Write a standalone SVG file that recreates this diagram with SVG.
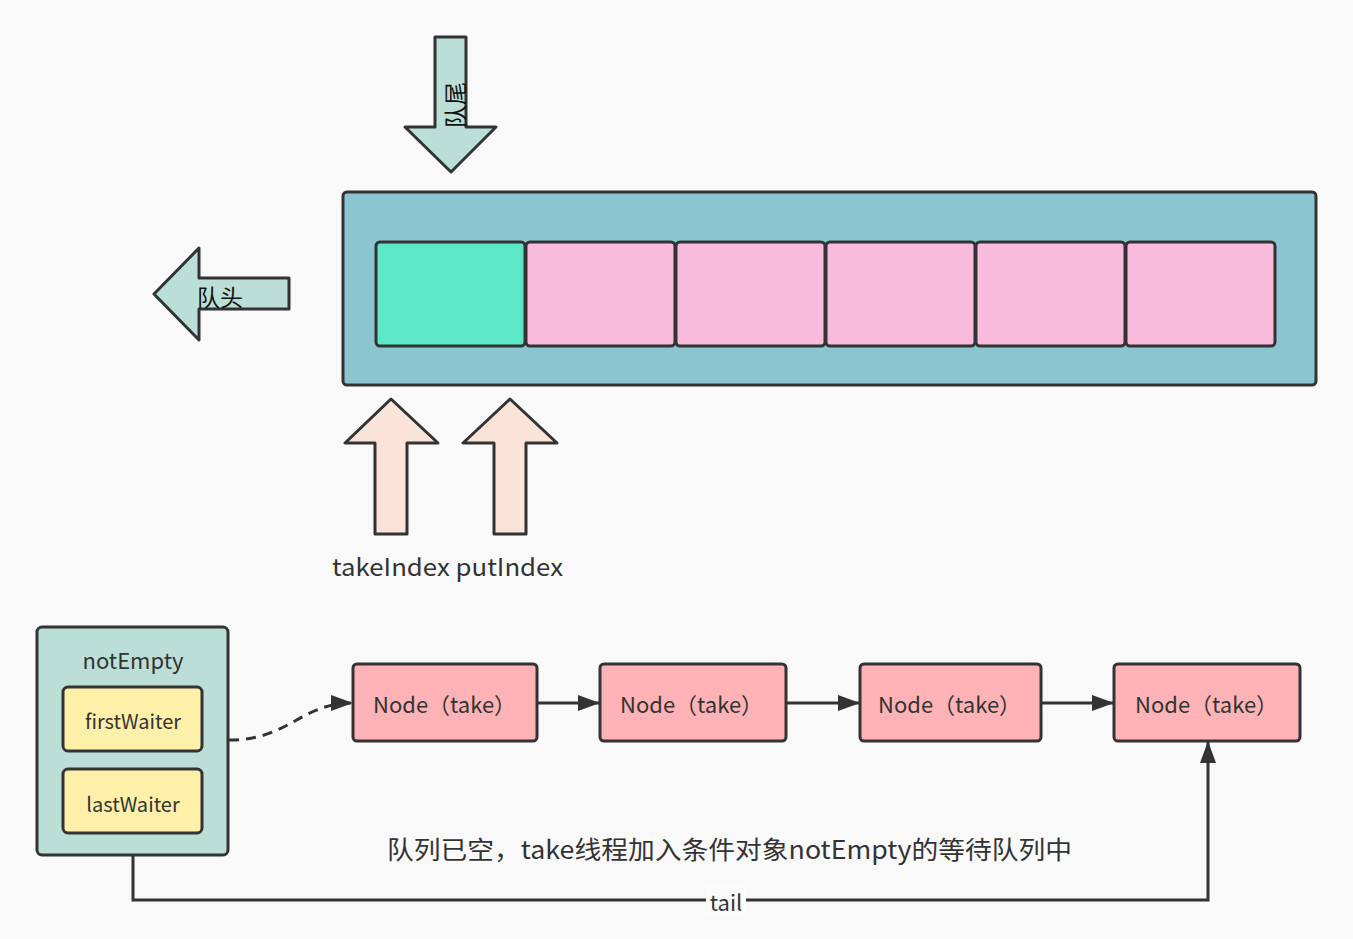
<svg xmlns="http://www.w3.org/2000/svg" width="1353" height="939" viewBox="0 0 1353 939">
<defs>
<style>
.s{stroke:#333;stroke-width:3;stroke-linejoin:round}
.t{font-family:"Noto Sans CJK SC","Noto Sans",sans-serif;fill:#333}
.cell{fill:#F8BBDB}
.node{fill:#FFB3B6}
.wait{fill:#FFF0A9}
.ln{stroke:#333;stroke-width:3;fill:none}
</style>
<marker id="ah2" viewBox="0 0 22 16" refX="22" refY="8" markerWidth="22" markerHeight="16" orient="auto" markerUnits="userSpaceOnUse">
<path d="M0,0 L22,8 L0,16 Z" fill="#333"/>
</marker>
</defs>
<rect width="1353" height="939" fill="#F9F9F9"/>

<g id="tail-arrow">
<polygon class="s" fill="#BBDFD7" points="435,37 466,37 466,127 496,127 451,172 405,127 435,127"/>
<text class="t" style="fill:#111" font-size="23" text-anchor="middle" transform="translate(464,105) rotate(-90)">队尾</text>
</g>
<g id="head-arrow">
<polygon class="s" fill="#BBDFD7" points="289,278 289,309 199,309 199,340 154,294 199,248 199,278"/>
<text class="t" style="fill:#111" font-size="23" x="197" y="306">队头</text>
</g>

<g id="array">
<rect class="s" x="343" y="192" width="973" height="193" rx="4" fill="#8BC6D0"/>
<rect class="s" x="376" y="242" width="149" height="104" rx="4" fill="#5CE8C6"/>
<rect class="s cell" x="526" y="242" width="149" height="104" rx="4"/>
<rect class="s cell" x="676" y="242" width="149" height="104" rx="4"/>
<rect class="s cell" x="826" y="242" width="149" height="104" rx="4"/>
<rect class="s cell" x="976" y="242" width="149" height="104" rx="4"/>
<rect class="s cell" x="1126" y="242" width="149" height="104" rx="4"/>
</g>

<g id="index-arrows">
<polygon class="s" fill="#FAE3D9" points="375,534 407,534 407,443 438,443 391,399 345,443 375,443"/>
<polygon class="s" fill="#FAE3D9" points="494,534 526,534 526,443 557,443 510,399 463,443 494,443"/>
<text class="t" font-size="24" x="332" y="576" textLength="231" lengthAdjust="spacingAndGlyphs">takeIndex putIndex</text>
</g>

<g id="notEmpty">
<rect class="s" x="37" y="627" width="191" height="228" rx="5" fill="#BBDFD7"/>
<text class="t" font-size="22" x="133" y="669" text-anchor="middle">notEmpty</text>
</g>
<g id="firstWaiter">
<rect class="s wait" x="63" y="687" width="139" height="64" rx="5"/>
<text class="t" font-size="20" x="133" y="729" text-anchor="middle">firstWaiter</text>
</g>
<g id="lastWaiter">
<rect class="s wait" x="63" y="769" width="139" height="64" rx="5"/>
<text class="t" font-size="20" x="133" y="812" text-anchor="middle">lastWaiter</text>
</g>

<g id="node1">
<rect class="s node" x="353" y="664" width="184" height="77" rx="4"/>
<text class="t" font-size="22" x="373" y="713">Node（take）</text>
</g>
<g id="node2">
<rect class="s node" x="600" y="664" width="186" height="77" rx="4"/>
<text class="t" font-size="22" x="620" y="713">Node（take）</text>
</g>
<g id="node3">
<rect class="s node" x="860" y="664" width="181" height="77" rx="4"/>
<text class="t" font-size="22" x="878" y="713">Node（take）</text>
</g>
<g id="node4">
<rect class="s node" x="1114" y="664" width="186" height="77" rx="4"/>
<text class="t" font-size="22" x="1135" y="713">Node（take）</text>
</g>

<g id="connectors">
<path class="ln" d="M229,740 C290,740 300,703 353,703" stroke-dasharray="10,7" marker-end="url(#ah2)"/>
<path class="ln" d="M537,703 L600,703" marker-end="url(#ah2)"/>
<path class="ln" d="M786,703 L860,703" marker-end="url(#ah2)"/>
<path class="ln" d="M1041,703 L1114,703" marker-end="url(#ah2)"/>
<path class="ln" d="M133,855 L133,900 L1208,900 L1208,741" marker-end="url(#ah2)"/>
<rect x="706" y="884" width="40" height="32" fill="#FBFBFB"/>
<text class="t" font-size="22" x="726" y="911" text-anchor="middle">tail</text>
</g>

<text class="t" font-size="25" x="387" y="859" textLength="685" lengthAdjust="spacingAndGlyphs">队列已空，take线程加入条件对象notEmpty的等待队列中</text>
</svg>
